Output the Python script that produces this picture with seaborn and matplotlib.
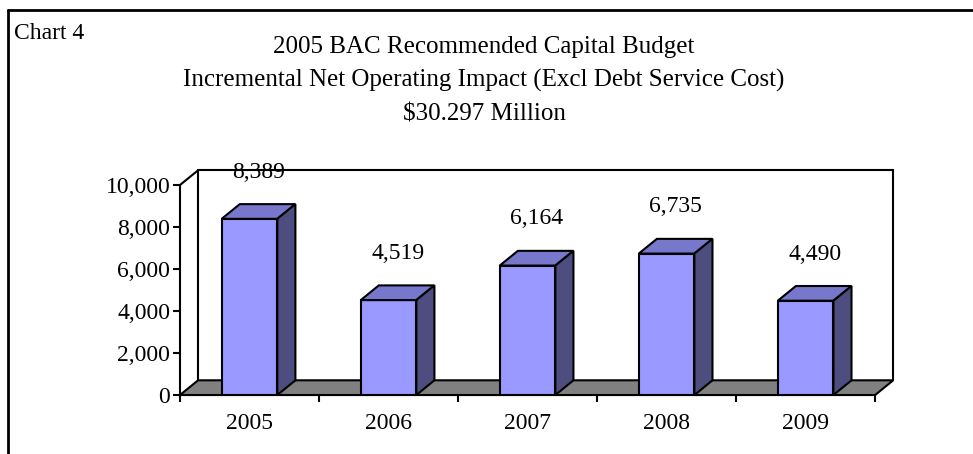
import matplotlib
matplotlib.use("Agg")
import matplotlib.pyplot as plt
from matplotlib.patches import Polygon
from matplotlib.lines import Line2D
import seaborn as sns
import pandas as pd

# Data
years = ["2005", "2006", "2007", "2008", "2009"]
impact = [8389, 4519, 6164, 6735, 4490]
y_ticks = [0, 2000, 4000, 6000, 8000, 10000]
title_lines = [
    "2005 BAC Recommended Capital Budget",
    "Incremental Net Operating Impact (Excl Debt Service Cost)",
    "$30.297 Million",
]
corner_label = "Chart 4"

sns.set_style("white", {"text.color": "black", "axes.labelcolor": "black",
                        "xtick.color": "black", "ytick.color": "black",
                        "axes.edgecolor": "black"})
plt.rcParams["font.family"] = ["Liberation Serif", "DejaVu Serif"]

FRONT = "#9999FF"
TOP = "#7777CC"
SIDE = "#4D4D80"
FLOOR = "#808080"
LW = 1.5

W, H = 973, 454
fig = plt.figure(figsize=(W / 100, H / 100), dpi=100)

# outer frame (top and left edges)
fig.add_artist(Line2D([8 / W, 1], [1 - 10 / H, 1 - 10 / H], color="black", lw=2, transform=fig.transFigure))
fig.add_artist(Line2D([8 / W, 8 / W], [1 - 10 / H, 0], color="black", lw=2, transform=fig.transFigure))

fig.text(14 / W, 1 - 39 / H, corner_label, fontsize=17, ha="left", va="baseline", color="black")
for k, line in enumerate(title_lines):
    fig.text(484 / W, 1 - (53 + 33.5 * k) / H, line, fontsize=18, ha="center", va="baseline", color="black")

# axes: front plane x -0.5..4.5 -> 180..875 px, y 0..10000 -> 395..185 px
ax = fig.add_axes([180 / W, (H - 395) / H, 716 / W, 226.8 / H])
df = pd.DataFrame({"year": years, "impact": impact})
sns.barplot(data=df, x="year", y="impact", color=FRONT, saturation=1, width=0.4,
            edgecolor="black", linewidth=LW, ax=ax, zorder=2)
ax.set_xlim(-0.5, 4.65)
ax.set_ylim(0, 10800)

# depth offset of the pseudo-3D view, in data units
DX, DY = 0.13, 700

# floor
ax.add_patch(Polygon([(-0.5, 0), (4.5, 0), (4.5 + DX, DY), (-0.5 + DX, DY)], closed=True,
                     facecolor=FLOOR, edgecolor="black", lw=LW, zorder=1, clip_on=False))
# back wall and left wall edges
top_v = y_ticks[-1]
ax.plot([-0.5 + DX, -0.5 + DX, 4.5 + DX, 4.5 + DX], [DY, top_v + DY, top_v + DY, DY],
        color="black", lw=LW, zorder=0.5, solid_joinstyle="miter", clip_on=False)
ax.plot([-0.5, -0.5 + DX], [top_v, top_v + DY], color="black", lw=LW, zorder=0.5, clip_on=False)

# top and side faces of each bar
for bar, v in zip(ax.patches[:len(impact)], impact):
    x0 = bar.get_x()
    x1 = x0 + bar.get_width()
    h = bar.get_height()
    ax.add_patch(Polygon([(x0, h), (x1, h), (x1 + DX, h + DY), (x0 + DX, h + DY)], closed=True,
                         facecolor=TOP, edgecolor="black", lw=LW, zorder=2))
    ax.add_patch(Polygon([(x1, 0), (x1 + DX, DY), (x1 + DX, h + DY), (x1, h)], closed=True,
                         facecolor=SIDE, edgecolor="black", lw=LW, zorder=2))
    ax.annotate(f"{v:,}", (x0 + bar.get_width() / 2 + DX / 2, h + DY), xytext=(0, 19),
                textcoords="offset points", ha="center", va="baseline", fontsize=17,
                color="black", zorder=3)

for s in ["top", "right"]:
    ax.spines[s].set_visible(False)
for s in ["left", "bottom"]:
    ax.spines[s].set_linewidth(LW)
    ax.spines[s].set_color("black")
    ax.spines[s].set_zorder(0.6)
ax.spines["left"].set_bounds(0, top_v)
ax.spines["bottom"].set_bounds(-0.5, 4.5)

ax.set_yticks(y_ticks)
ax.set_yticklabels([f"{t:,}" for t in y_ticks])
ax.tick_params(axis="y", direction="out", length=5, width=LW, pad=2, labelsize=17, left=True,
               colors="black")
ax.set_xticks(range(len(years)))
ax.set_xticklabels(years)
ax.set_xticks([i - 0.5 for i in range(len(years) + 1)], minor=True)
ax.tick_params(axis="x", which="major", length=0, pad=13, labelsize=17, colors="black")
ax.tick_params(axis="x", which="minor", direction="out", length=5, width=LW, bottom=True,
               colors="black")
ax.set_xlabel("")
ax.set_ylabel("")
ax.grid(False)
ax.patch.set_alpha(0)

fig.savefig("out.png", dpi=100)
